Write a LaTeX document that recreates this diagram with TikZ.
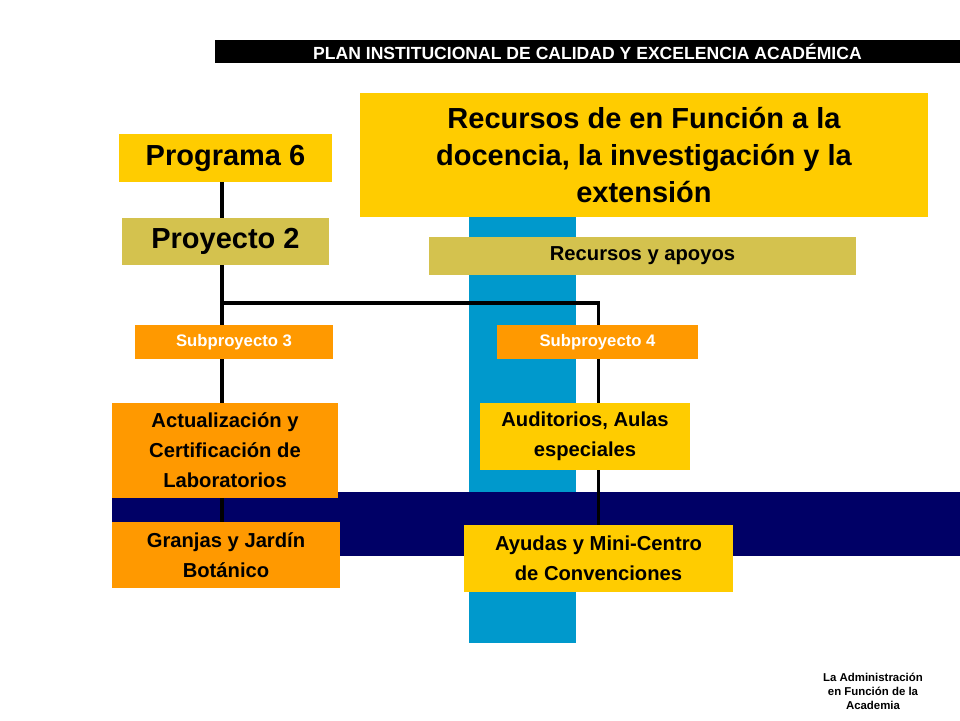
\documentclass[tikz,border=0pt]{standalone}
\usepackage{fontspec}
\setmainfont{Liberation Sans}
\usetikzlibrary{positioning, backgrounds}
\definecolor{gold}{HTML}{FFCC00}
\definecolor{olive}{HTML}{D4C24E}
\definecolor{tangerine}{HTML}{FF9900}
\definecolor{skyband}{HTML}{0099CC}
\definecolor{navyband}{HTML}{000066}
\pgfdeclarelayer{lines}
\pgfsetlayers{background,lines,main}

\begin{document}
\begin{tikzpicture}[
    x=0.02cm, y=-0.02cm,
    box/.style={fill=#1, inner sep=0pt, align=center, font=\bfseries},
    wire/.style={line width=2.2pt, black},
]
    \useasboundingbox (0,0) rectangle (960,720);

    % Bands
    \begin{pgfonlayer}{background}
        \fill[skyband] (469,200) rectangle (576,643);
        \fill[navyband] (112,492) rectangle (960,556);
    \end{pgfonlayer}

    % Title
    \node[box=black, text=white, minimum width=14.9cm, minimum height=0.46cm,
          font=\bfseries\fontsize{10}{12}\selectfont] (title) at (587.5,51.5)
        {PLAN INSTITUCIONAL DE CALIDAD Y EXCELENCIA ACADÉMICA};

    % Headers
    \node[box=gold, minimum width=11.36cm, minimum height=2.48cm,
          font=\bfseries\fontsize{16.5}{21}\selectfont] (recursos) at (644,155)
        {Recursos de en Función a la\\docencia, la investigación y la\\extensión};
    \node[box=gold, minimum width=4.26cm, minimum height=0.96cm,
          font=\bfseries\fontsize{16.5}{20}\selectfont] (programa) at (225.5,158) {Programa 6};
    \node[box=olive, minimum width=4.14cm, minimum height=0.94cm,
          font=\bfseries\fontsize{16.5}{20}\selectfont] (proyecto) at (225.5,241.5) {Proyecto 2};
    \node[box=olive, minimum width=8.54cm, minimum height=0.76cm,
          font=\bfseries\fontsize{11.5}{14}\selectfont] (apoyos) at (642.5,256) {Recursos y apoyos};

    % Subprojects
    \node[box=tangerine, text=white, minimum width=3.96cm, minimum height=0.68cm,
          font=\bfseries\fontsize{9.5}{12}\selectfont] (sub3) at (234,342) {Subproyecto 3};
    \node[box=tangerine, text=white, minimum width=4.02cm, minimum height=0.68cm,
          font=\bfseries\fontsize{9.5}{12}\selectfont] (sub4) at (597.5,342) {Subproyecto 4};

    % Activities
    \node[box=tangerine, minimum width=4.52cm, minimum height=1.9cm,
          font=\bfseries\fontsize{11.5}{17}\selectfont] (labs) at (225,450.5)
        {Actualización y\\Certificación de\\Laboratorios};
    \node[box=tangerine, minimum width=4.56cm, minimum height=1.32cm,
          font=\bfseries\fontsize{11.5}{17}\selectfont] (granjas) at (226,555)
        {Granjas y Jardín\\Botánico};
    \node[box=gold, minimum width=4.2cm, minimum height=1.34cm,
          font=\bfseries\fontsize{11.5}{17}\selectfont] (aulas) at (585,436.5)
        {Auditorios, Aulas\\especiales};
    \node[box=gold, minimum width=5.38cm, minimum height=1.34cm,
          font=\bfseries\fontsize{11.5}{17}\selectfont] (ayudas) at (598.5,558.5)
        {Ayudas y Mini-Centro\\de Convenciones};

    % Connectors
    \begin{pgfonlayer}{lines}
        \coordinate (fork) at (222,303);
        \draw[wire] (programa.south -| fork) -- (granjas.north -| fork);
        \draw[wire] (fork) -| (ayudas.north);
    \end{pgfonlayer}

    % Footer
    \node[align=center, font=\bfseries\fontsize{6.5}{8}\selectfont] (footer) at (873,691)
        {La Administración\\en Función de la\\Academia};
\end{tikzpicture}
\end{document}
